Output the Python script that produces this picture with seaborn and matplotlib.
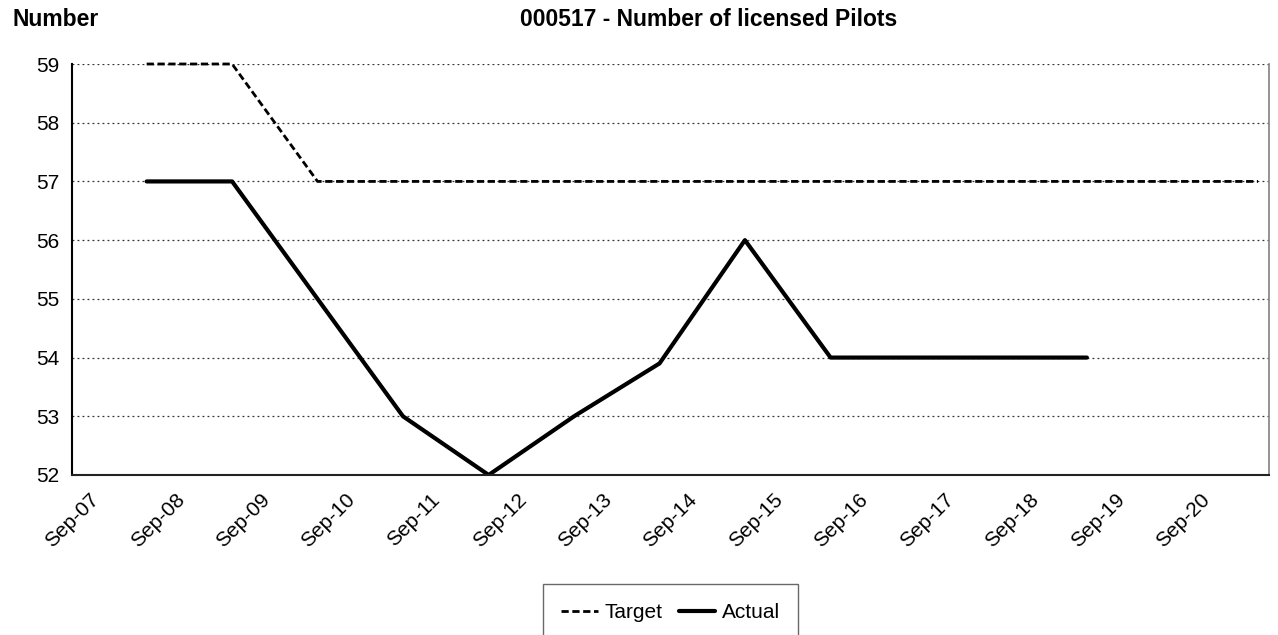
import pandas as pd
import matplotlib
matplotlib.use('Agg')
import matplotlib.pyplot as plt
import matplotlib.dates as mdates
import seaborn as sns

# data (yearly points, plotted mid-July)
target_periods = ['Jul-08', 'Jul-09', 'Jul-10', 'Jul-11', 'Jul-12', 'Jul-13', 'Jul-14',
                  'Jul-15', 'Jul-16', 'Jul-17', 'Jul-18', 'Jul-19', 'Jul-20', 'Jul-21']
target_values = [59, 59, 57, 57, 57, 57, 57, 57, 57, 57, 57, 57, 57, 57]

actual_periods = ['Jul-08', 'Jul-09', 'Jul-10', 'Jul-11', 'Jul-12', 'Jul-13',
                  'Jul-14', 'Jul-15', 'Jul-16', 'Jul-17', 'Jul-18', 'Jul-19']
actual_values = [57, 57, 55, 53, 52, 53, 53.9, 56, 54, 54, 54, 54]

y_ticks = [52, 53, 54, 55, 56, 57, 58, 59]
x_start, x_end = '2007-09-01', '2021-09-01'
tick_years = list(range(2007, 2021))

title = '000517 - Number of licensed Pilots'
y_label = 'Number'


def to_dates(labels):
    # mid-month position, like a month-based date axis
    return pd.to_datetime(labels, format='%b-%y') + pd.Timedelta(days=15)


df_target = pd.DataFrame({'date': to_dates(target_periods), 'value': target_values})
df_actual = pd.DataFrame({'date': to_dates(actual_periods), 'value': actual_values})

sns.set_theme(style='white')
plt.rcParams['font.family'] = ['Liberation Sans', 'DejaVu Sans']
plt.rcParams['text.color'] = 'black'
plt.rcParams['xtick.color'] = 'black'
plt.rcParams['ytick.color'] = 'black'

fig = plt.figure(figsize=(12.78, 6.35), dpi=100)
ax = fig.add_axes([72 / 1278, 1 - 475 / 635, (1269 - 72) / 1278, (475 - 64) / 635])

sns.lineplot(data=df_target, x='date', y='value', ax=ax, color='black',
             linewidth=2, dashes=False, label='Target', clip_on=False)
ax.lines[-1].set_dashes((2.6, 1.3))
sns.lineplot(data=df_actual, x='date', y='value', ax=ax, color='black',
             linewidth=3, label='Actual')

ax.set_ylim(52, 59)
ax.set_yticks(y_ticks)
ax.set_xlim(pd.Timestamp(x_start), pd.Timestamp(x_end))
ax.set_xticks([pd.Timestamp(f'{y}-09-01') for y in tick_years])
ax.xaxis.set_major_formatter(mdates.DateFormatter('%b-%y'))

ax.grid(axis='y', linestyle=(0, (1.5, 2.5)), color='#333333', linewidth=0.9)
ax.set_axisbelow(True)
ax.set_xlabel('')
ax.set_ylabel('')

ax.tick_params(axis='y', length=0, pad=9, labelsize=15)
ax.tick_params(axis='x', length=0, pad=11, labelsize=15)
for lab in ax.get_xticklabels():
    lab.set_rotation(45)
    lab.set_ha('center')
    lab.set_va('top')

ax.spines['top'].set_visible(False)
ax.spines['left'].set_color('black')
ax.spines['left'].set_linewidth(1.5)
ax.spines['bottom'].set_color('#222222')
ax.spines['bottom'].set_linewidth(1.5)
ax.spines['right'].set_color('#808080')
ax.spines['right'].set_linewidth(1.2)

leg = ax.legend(loc='upper center', bbox_to_anchor=(0.5, -0.24), ncol=2,
                frameon=True, fancybox=False, fontsize=15, handlelength=1.75,
                handletextpad=0.3, columnspacing=0.8, borderpad=0.9)
leg.get_frame().set_edgecolor('#444444')
leg.get_frame().set_linewidth(1.0)

fig.text(12 / 1278, 1 - 20 / 635, y_label, fontsize=16.5, fontweight='bold',
         ha='left', va='center')
fig.text(709 / 1278, 1 - 20 / 635, title, fontsize=16.5, fontweight='bold',
         ha='center', va='center')

plt.savefig('out.png', dpi=100)
